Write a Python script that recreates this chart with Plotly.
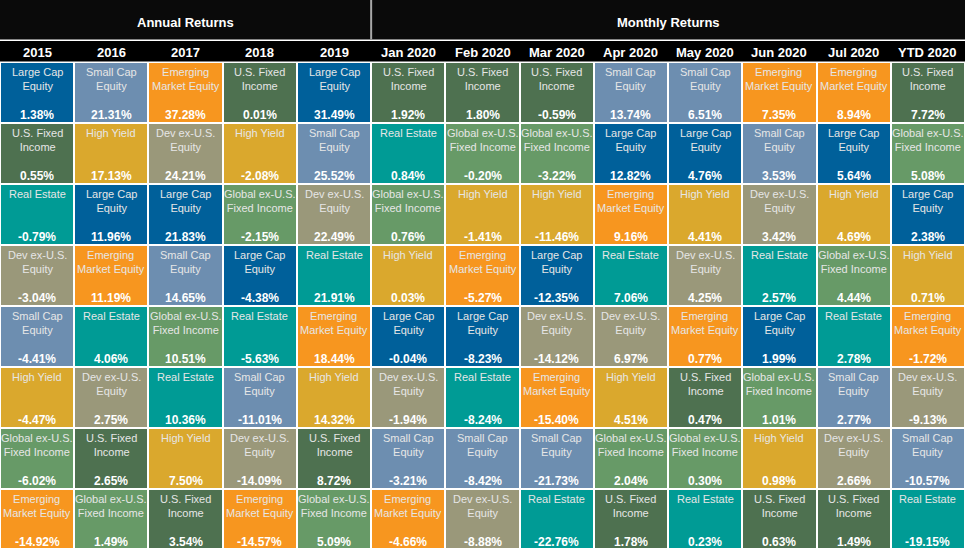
import plotly.graph_objects as go

# periods (columns) and ranked assets / returns per period, best to worst
periods = ["2015", "2016", "2017", "2018", "2019", "Jan 2020", "Feb 2020", "Mar 2020",
           "Apr 2020", "May 2020", "Jun 2020", "Jul 2020", "YTD 2020"]

assets = ["Large Cap Equity", "Small Cap Equity", "Emerging Market Equity", "U.S. Fixed Income",
          "High Yield", "Dev ex-U.S. Equity", "Real Estate", "Global ex-U.S. Fixed Income"]
asset_labels = ["Large Cap<br>Equity", "Small Cap<br>Equity", "Emerging<br>Market Equity",
                "U.S. Fixed<br>Income", "High Yield", "Dev ex-U.S.<br>Equity", "Real Estate",
                "Global ex-U.S.<br>Fixed Income"]
asset_colors = ["#00609A", "#6D8EB0", "#F7961F", "#4E7150",
                "#DAA82D", "#9A987A", "#009B95", "#679A67"]

LC, SC, EM, US, HY, DEV, RE, GL = range(8)

ranked_assets = [
    [LC, US, RE, DEV, SC, HY, GL, EM],   # 2015
    [SC, HY, LC, EM, RE, DEV, US, GL],   # 2016
    [EM, DEV, LC, SC, GL, RE, HY, US],   # 2017
    [US, HY, GL, LC, RE, SC, DEV, EM],   # 2018
    [LC, SC, DEV, RE, EM, HY, US, GL],   # 2019
    [US, RE, GL, HY, LC, DEV, SC, EM],   # Jan 2020
    [US, GL, HY, EM, LC, RE, SC, DEV],   # Feb 2020
    [US, GL, HY, LC, DEV, EM, SC, RE],   # Mar 2020
    [SC, LC, EM, RE, DEV, HY, GL, US],   # Apr 2020
    [SC, LC, HY, DEV, EM, US, GL, RE],   # May 2020
    [EM, SC, DEV, RE, LC, GL, HY, US],   # Jun 2020
    [EM, LC, HY, GL, RE, SC, DEV, US],   # Jul 2020
    [US, GL, LC, HY, EM, DEV, SC, RE],   # YTD 2020
]

ranked_returns = [
    [1.38, 0.55, -0.79, -3.04, -4.41, -4.47, -6.02, -14.92],
    [21.31, 17.13, 11.96, 11.19, 4.06, 2.75, 2.65, 1.49],
    [37.28, 24.21, 21.83, 14.65, 10.51, 10.36, 7.50, 3.54],
    [0.01, -2.08, -2.15, -4.38, -5.63, -11.01, -14.09, -14.57],
    [31.49, 25.52, 22.49, 21.91, 18.44, 14.32, 8.72, 5.09],
    [1.92, 0.84, 0.76, 0.03, -0.04, -1.94, -3.21, -4.66],
    [1.80, -0.20, -1.41, -5.27, -8.23, -8.24, -8.42, -8.88],
    [-0.59, -3.22, -11.46, -12.35, -14.12, -15.40, -21.73, -22.76],
    [13.74, 12.82, 9.16, 7.06, 6.97, 4.51, 2.04, 1.78],
    [6.51, 4.76, 4.41, 4.25, 0.77, 0.47, 0.30, 0.23],
    [7.35, 3.53, 3.42, 2.57, 1.99, 1.01, 0.98, 0.63],
    [8.94, 5.64, 4.69, 4.44, 2.78, 2.77, 2.66, 1.49],
    [7.72, 5.08, 2.38, 0.71, -1.72, -9.13, -10.57, -19.15],
]

n_cols = len(periods)
n_rows = len(assets)
n_annual = 5

# heatmap grid: z[row][col] = asset index
z = [[ranked_assets[c][r] for c in range(n_cols)] for r in range(n_rows)]
colorscale = [[i / (len(asset_colors) - 1), col] for i, col in enumerate(asset_colors)]

fig = go.Figure(go.Heatmap(
    z=z, x=list(range(n_cols)), y=list(range(n_rows)),
    colorscale=colorscale, zmin=0, zmax=len(assets) - 1,
    showscale=False, xgap=2, ygap=2, hoverinfo="skip",
))

FONT = "Liberation Sans, Arial, sans-serif"
row_px = 61.0
top_px = 62.0  # cells start below the two header bands

annotations = []
for c in range(n_cols):
    for r in range(n_rows):
        a = ranked_assets[c][r]
        annotations.append(dict(
            x=c, y=r - 0.5 + 2 / row_px, xref="x", yref="y", yanchor="top",
            text=asset_labels[a], showarrow=False,
            font=dict(family=FONT, size=11, color="#E6E6E6"),
        ))
        annotations.append(dict(
            x=c, y=r - 0.5 + 53 / row_px, xref="x", yref="y",
            text="<b>%.2f%%</b>" % ranked_returns[c][r], showarrow=False,
            font=dict(family=FONT, size=12, color="white"),
        ))

# header geometry in data units of the y axis
y_top = -0.5 - top_px / row_px
y_band_bottom = -0.5 - (top_px - 39.5) / row_px
y_hdr_top = -0.5 - (top_px - 41) / row_px
y_hdr_bottom = -0.5 - 0.5 / row_px
y_band_text = -0.5 - (top_px - 22) / row_px

shapes = [
    dict(type="rect", xref="x", yref="y", x0=-0.5, x1=n_cols - 0.5,
         y0=y_top, y1=y_band_bottom, fillcolor="#0A0A0A", line_width=0, layer="below"),
    dict(type="rect", xref="x", yref="y", x0=-0.5, x1=n_cols - 0.5,
         y0=y_hdr_top, y1=y_hdr_bottom, fillcolor="#000000", line_width=0, layer="below"),
    dict(type="line", xref="x", yref="y", x0=n_annual - 0.5, x1=n_annual - 0.5,
         y0=y_top, y1=y_band_bottom, line=dict(color="#A8A8A8", width=2)),
]

for c, p in enumerate(periods):
    annotations.append(dict(
        x=c, y=(y_hdr_top + y_hdr_bottom) / 2 + 1 / row_px, xref="x", yref="y",
        text="<b>%s</b>" % p, showarrow=False,
        font=dict(family=FONT, size=13, color="white"),
    ))

annotations.append(dict(
    x=(n_annual - 1) / 2, y=y_band_text, xref="x", yref="y",
    text="<b>Annual Returns</b>", showarrow=False,
    font=dict(family=FONT, size=13, color="white"),
))
annotations.append(dict(
    x=(n_annual + n_cols - 1) / 2, y=y_band_text, xref="x", yref="y",
    text="<b>Monthly Returns</b>", showarrow=False,
    font=dict(family=FONT, size=13, color="white"),
))

height = 548
y_bottom = -0.5 + (height - top_px) / row_px

fig.update_layout(
    width=969, height=height,
    margin=dict(l=0, r=4, t=0, b=0),
    paper_bgcolor="white", plot_bgcolor="white",
    xaxis=dict(range=[-0.5, n_cols - 0.5], visible=False, fixedrange=True),
    yaxis=dict(range=[y_bottom, y_top], visible=False, fixedrange=True),
    shapes=shapes, annotations=annotations,
    showlegend=False,
)

# drop the browser's default body margin so the chart sits at the page corner
fig.write_html("out.html", config={"displayModeBar": False},
               post_script="document.body.style.margin='0';")
